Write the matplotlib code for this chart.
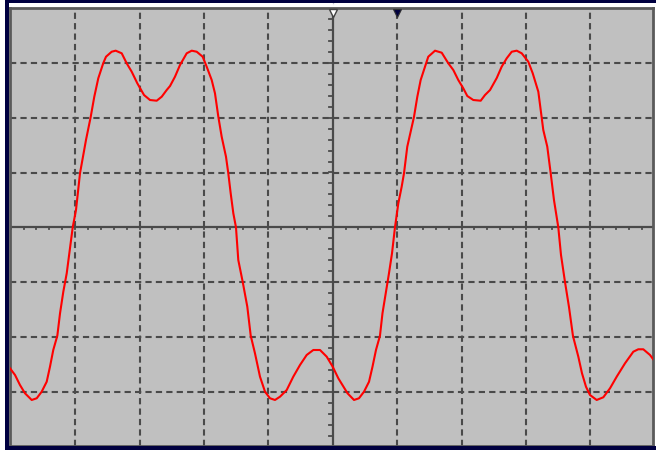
import numpy as np
import matplotlib
matplotlib.use("Agg")
import matplotlib.pyplot as plt
from matplotlib.transforms import blended_transform_factory
from matplotlib.patches import Rectangle

# -------- trace (time in div, amplitude in div) --------
t_div = [-5.011, -4.933, -4.856, -4.778, -4.674, -4.596, -4.519, -4.441, -4.390, -4.339,
         -4.276, -4.234, -4.183, -4.130, -4.090, -4.037, -3.986, -3.924, -3.831, -3.758,
         -3.702, -3.640, -3.562, -3.520, -3.432, -3.370, -3.276, -3.199, -3.121, -3.034,
         -2.930, -2.837, -2.733, -2.655, -2.578, -2.526, -2.449, -2.371, -2.267, -2.189,
         -2.112, -2.019, -1.957, -1.879, -1.828, -1.776, -1.724, -1.657, -1.621, -1.584,
         -1.543, -1.502, -1.466, -1.398, -1.326, -1.273, -1.207, -1.129, -1.051, -0.974,
         -0.896, -0.818, -0.714, -0.612, -0.508, -0.404, -0.301, -0.197, -0.093, 0.000,
         0.087, 0.152, 0.230, 0.331, 0.408, 0.486, 0.564, 0.618, 0.672, 0.734,
         0.773, 0.828, 0.874, 0.921, 0.967, 1.019, 1.071, 1.107, 1.158, 1.227,
         1.262, 1.314, 1.366, 1.433, 1.484, 1.589, 1.693, 1.795, 1.873, 1.950,
         2.028, 2.090, 2.183, 2.298, 2.365, 2.443, 2.547, 2.624, 2.702, 2.780,
         2.857, 2.935, 3.037, 3.106, 3.193, 3.230, 3.270, 3.332, 3.385, 3.436,
         3.503, 3.545, 3.607, 3.669, 3.731, 3.814, 3.871, 3.933, 3.995, 4.099,
         4.202, 4.306, 4.410, 4.539, 4.668, 4.745, 4.823, 4.927, 5.005]
v_div = [-2.573, -2.695, -2.878, -3.029, -3.151, -3.120, -3.000, -2.818, -2.544, -2.239,
         -1.978, -1.569, -1.175, -0.839, -0.474, 0.000, 0.316, 0.985, 1.593, 2.013,
         2.383, 2.719, 2.998, 3.113, 3.204, 3.223, 3.175, 2.993, 2.839, 2.628,
         2.414, 2.323, 2.310, 2.383, 2.505, 2.578, 2.748, 2.962, 3.175, 3.223,
         3.204, 3.113, 2.931, 2.688, 2.445, 2.018, 1.653, 1.288, 0.985, 0.620,
         0.255, 0.000, -0.597, -0.993, -1.449, -1.978, -2.299, -2.726, -3.000, -3.120,
         -3.151, -3.091, -2.969, -2.726, -2.513, -2.330, -2.239, -2.239, -2.361, -2.544,
         -2.755, -2.878, -3.029, -3.151, -3.120, -3.000, -2.818, -2.544, -2.239, -1.978,
         -1.569, -1.175, -0.839, -0.474, 0.000, 0.438, 0.741, 0.985, 1.471, 1.836,
         2.013, 2.383, 2.688, 2.931, 3.113, 3.223, 3.186, 2.993, 2.870, 2.688,
         2.536, 2.396, 2.323, 2.310, 2.414, 2.505, 2.724, 2.931, 3.084, 3.204,
         3.223, 3.175, 3.022, 2.810, 2.474, 2.141, 1.776, 1.471, 0.985, 0.498,
         0.000, -0.505, -0.998, -1.454, -1.984, -2.361, -2.664, -2.909, -3.060, -3.151,
         -3.102, -2.938, -2.726, -2.482, -2.270, -2.226, -2.226, -2.330, -2.453]

# screen markers (div): trigger position and cursor
trigger_x = 0.0
cursor_x = 1.0

W, H = 656, 450
fig = plt.figure(figsize=(W / 100, H / 100), dpi=100)
fig.patch.set_facecolor("white")

# -------- outer navy frame --------
navy = "#000040"
fig.add_artist(Rectangle((5 / W, 1 - 2.5 / H), 1, 2.5 / H, transform=fig.transFigure,
                         color=navy, lw=0))
fig.add_artist(Rectangle((5 / W, 0), 3.5 / W, 1, transform=fig.transFigure,
                         color=navy, lw=0))
fig.add_artist(Rectangle((5 / W, 0), 1, 4 / H, transform=fig.transFigure,
                         color=navy, lw=0))

# -------- screen --------
left, right, top, bottom = 9.5, 653, 8, 446
ax = fig.add_axes([left / W, 1 - bottom / H, (right - left) / W, (bottom - top) / H])
ax.set_facecolor("#c0c0c0")
ax.set_xlim((left - 332.7) / 64.4, (right - 332.7) / 64.4)
ax.set_ylim((227.3 - bottom) / 54.8, (227.3 - top) / 54.8)
ax.set_xticks([])
ax.set_yticks([])
for s in ax.spines.values():
    s.set_color("#5a5a5a")
    s.set_linewidth(2.0)

grid_kw = dict(color="#4a4a4a", lw=1.5, dashes=(3, 2), zorder=1)
for gx in range(-4, 5):
    if gx != 0:
        ax.axvline(gx, **grid_kw)
for gy in range(-3, 4):
    if gy != 0:
        ax.axhline(gy, **grid_kw)

ax.axhline(0, color="#4a4a4a", lw=1.6, zorder=2)
ax.axvline(0, color="#4a4a4a", lw=1.6, zorder=2)

# minor ticks on centre axes
for tx in np.arange(-5, 5.01, 0.2):
    ax.plot([tx, tx], [-0.04, 0.0], color="#4a4a4a", lw=1.3, zorder=2)
for ty in np.arange(-4, 4.01, 0.2):
    ax.plot([-0.05, 0.0], [ty, ty], color="#4a4a4a", lw=1.3, zorder=2)

# -------- trace --------
ax.plot(t_div, v_div, color="#ff0000", lw=1.5, zorder=3, solid_joinstyle="round")

# -------- markers --------
tr = blended_transform_factory(ax.transData, ax.transAxes)
ax.plot([trigger_x], [0.988], marker="v", ms=6, mfc="white", mec="#404040", mew=1,
        transform=tr, clip_on=False, zorder=5)
ax.plot([cursor_x], [0.988], marker="v", ms=6, mfc=navy, mec="#303030", mew=0.8,
        transform=tr, clip_on=False, zorder=5)
ax.plot([trigger_x], [1.013], marker="v", ms=4, mfc="#c0c0d0", mec="white", mew=0.5,
        transform=tr, clip_on=False, zorder=5)

fig.savefig("out.png", dpi=100)
